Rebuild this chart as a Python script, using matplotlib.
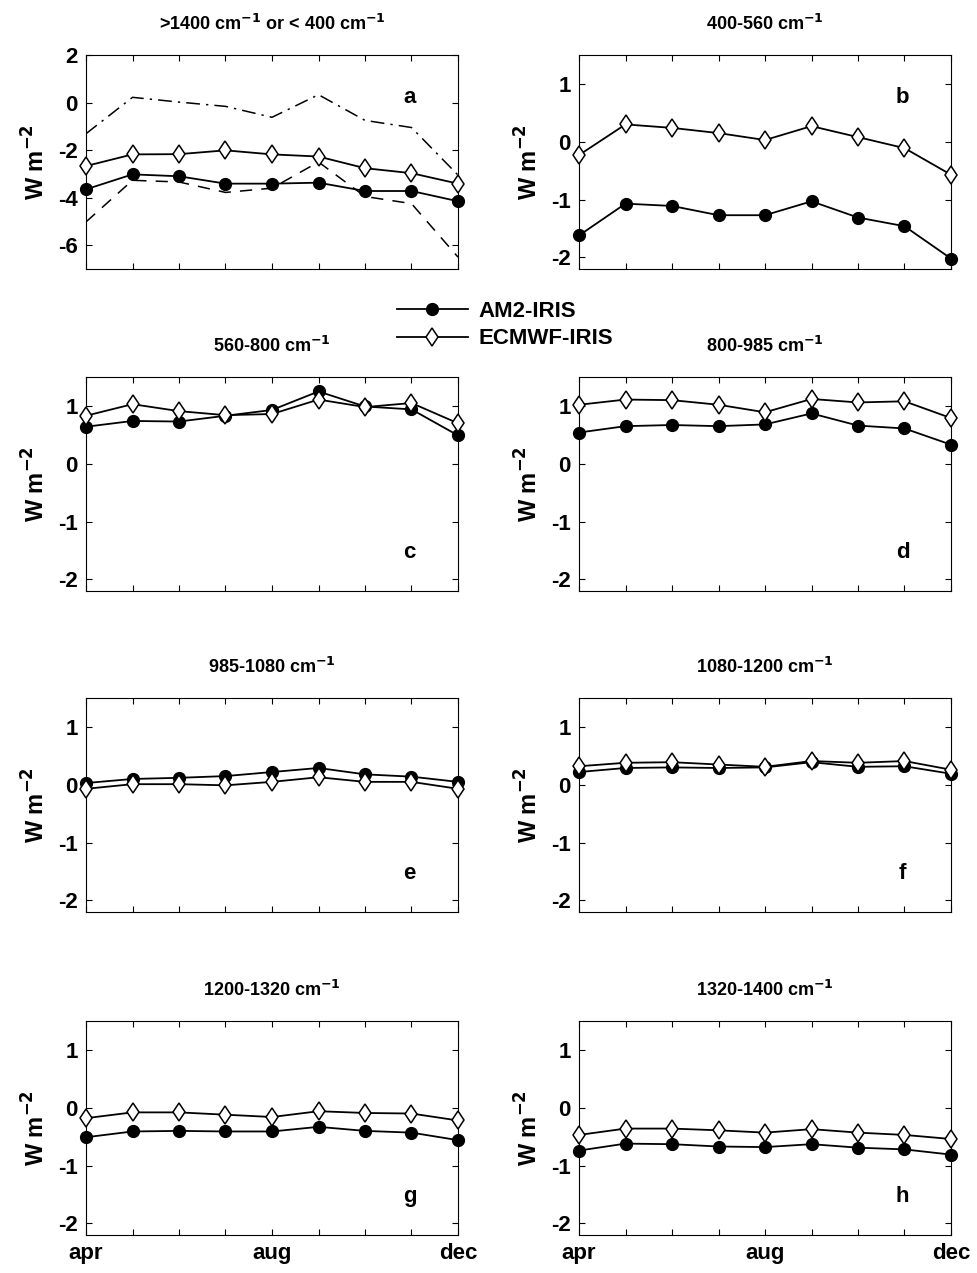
import matplotlib
matplotlib.use("Agg")
import matplotlib.pyplot as plt
from matplotlib.lines import Line2D

plt.rcParams['font.family'] = ['Liberation Sans', 'DejaVu Sans']
plt.rcParams['font.weight'] = 'bold'
plt.rcParams['mathtext.default'] = 'bf'
plt.rcParams['axes.unicode_minus'] = False

months = ['apr', 'may', 'jun', 'jul', 'aug', 'sep', 'oct', 'nov', 'dec']
xlabels = {0: 'apr', 4: 'aug', 8: 'dec'}

titles = [r'>1400 cm$^{-1}$ or < 400 cm$^{-1}$', r'400-560 cm$^{-1}$',
          r'560-800 cm$^{-1}$', r'800-985 cm$^{-1}$',
          r'985-1080 cm$^{-1}$', r'1080-1200 cm$^{-1}$',
          r'1200-1320 cm$^{-1}$', r'1320-1400 cm$^{-1}$']
letters = ['a', 'b', 'c', 'd', 'e', 'f', 'g', 'h']

am2 = [
    [-3.65, -3.02, -3.10, -3.41, -3.41, -3.37, -3.72, -3.72, -4.15],
    [-1.62, -1.07, -1.11, -1.27, -1.27, -1.03, -1.31, -1.46, -2.02],
    [0.64, 0.74, 0.73, 0.83, 0.93, 1.25, 0.99, 0.94, 0.49],
    [0.54, 0.65, 0.67, 0.65, 0.68, 0.87, 0.66, 0.61, 0.33],
    [0.03, 0.10, 0.12, 0.15, 0.22, 0.29, 0.18, 0.14, 0.05],
    [0.22, 0.29, 0.30, 0.29, 0.30, 0.39, 0.31, 0.32, 0.19],
    [-0.51, -0.41, -0.40, -0.41, -0.41, -0.33, -0.40, -0.43, -0.56],
    [-0.74, -0.62, -0.63, -0.67, -0.68, -0.63, -0.69, -0.72, -0.81],
]
ecmwf = [
    [-2.67, -2.18, -2.17, -2.01, -2.18, -2.27, -2.76, -2.97, -3.41],
    [-0.23, 0.30, 0.24, 0.15, 0.03, 0.27, 0.08, -0.11, -0.57],
    [0.83, 1.03, 0.91, 0.84, 0.86, 1.11, 0.98, 1.05, 0.70],
    [1.02, 1.11, 1.10, 1.02, 0.89, 1.12, 1.06, 1.08, 0.79],
    [-0.07, 0.01, 0.01, -0.01, 0.05, 0.13, 0.05, 0.05, -0.07],
    [0.32, 0.38, 0.39, 0.35, 0.31, 0.41, 0.38, 0.41, 0.26],
    [-0.18, -0.08, -0.08, -0.12, -0.16, -0.06, -0.09, -0.10, -0.22],
    [-0.47, -0.36, -0.36, -0.39, -0.43, -0.37, -0.43, -0.47, -0.54],
]
# extra curves in panel a
a_dashdot = [-1.31, 0.22, 0.02, -0.16, -0.62, 0.33, -0.75, -1.05, -3.05]
a_dashed = [-5.02, -3.27, -3.34, -3.78, -3.60, -2.50, -3.95, -4.25, -6.50]

W, H = 977, 1273
fig = plt.figure(figsize=(W / 100, H / 100), dpi=100)

lefts = [86, 579]
tops = [55, 377, 698, 1021]
aw, ah = 372, 214

x = list(range(len(months)))
for i in range(8):
    r, c = divmod(i, 2)
    ax = fig.add_axes([lefts[c] / W, 1 - (tops[r] + ah) / H, aw / W, ah / H])
    ax.plot(x, am2[i], '-', color='black', lw=1.3, marker='o', ms=8.5,
            mfc='black', mec='black', zorder=3, clip_on=False)
    ax.plot(x, ecmwf[i], '-', color='black', lw=1.3, marker='d', ms=9.5,
            mfc='white', mec='black', mew=1.1, zorder=3, clip_on=False)
    if i == 0:
        ax.plot(x, a_dashdot, color='black', lw=1.1, dashes=(9, 4, 1.5, 4), zorder=2)
        ax.plot(x, a_dashed, color='black', lw=1.1, dashes=(8, 6), zorder=2)
        ax.set_ylim(-7, 2)
        ax.set_yticks([-6, -4, -2, 0, 2])
    else:
        ax.set_ylim(-2.2, 1.5)
        ax.set_yticks([-2, -1, 0, 1])
    ax.set_xlim(0, 8)
    ax.set_xticks(x)
    if r == 3:
        ax.set_xticklabels([xlabels.get(k, '') for k in x])
    else:
        ax.set_xticklabels([])
    ax.tick_params(direction='in', top=True, right=True, length=4, width=0.8,
                   labelsize=16, pad=6)
    for lab in ax.get_xticklabels() + ax.get_yticklabels():
        lab.set_fontweight('bold')
    ax.set_ylabel(r'W m$^{-2}$', fontsize=17, fontweight='bold', labelpad=6)
    ax.set_title(titles[i], fontsize=13, fontweight='bold', pad=18)
    for s in ax.spines.values():
        s.set_linewidth(0.8)
    ly = 0.8 if i < 2 else 0.18
    ax.text(0.87, ly, letters[i], transform=ax.transAxes, fontsize=16,
            fontweight='bold', ha='center', va='center')

handles = [Line2D([], [], color='black', lw=1.3, marker='o', ms=8.5, mfc='black'),
           Line2D([], [], color='black', lw=1.3, marker='d', ms=9.5, mfc='white', mew=1.1)]
fig.legend(handles, ['AM2-IRIS', 'ECMWF-IRIS'], loc='center',
           bbox_to_anchor=(505 / W, 1 - 325 / H), frameon=False,
           prop={'weight': 'bold', 'size': 16}, handlelength=3.2,
           handletextpad=0.5, labelspacing=0.3)

fig.savefig('out.png', dpi=100)
